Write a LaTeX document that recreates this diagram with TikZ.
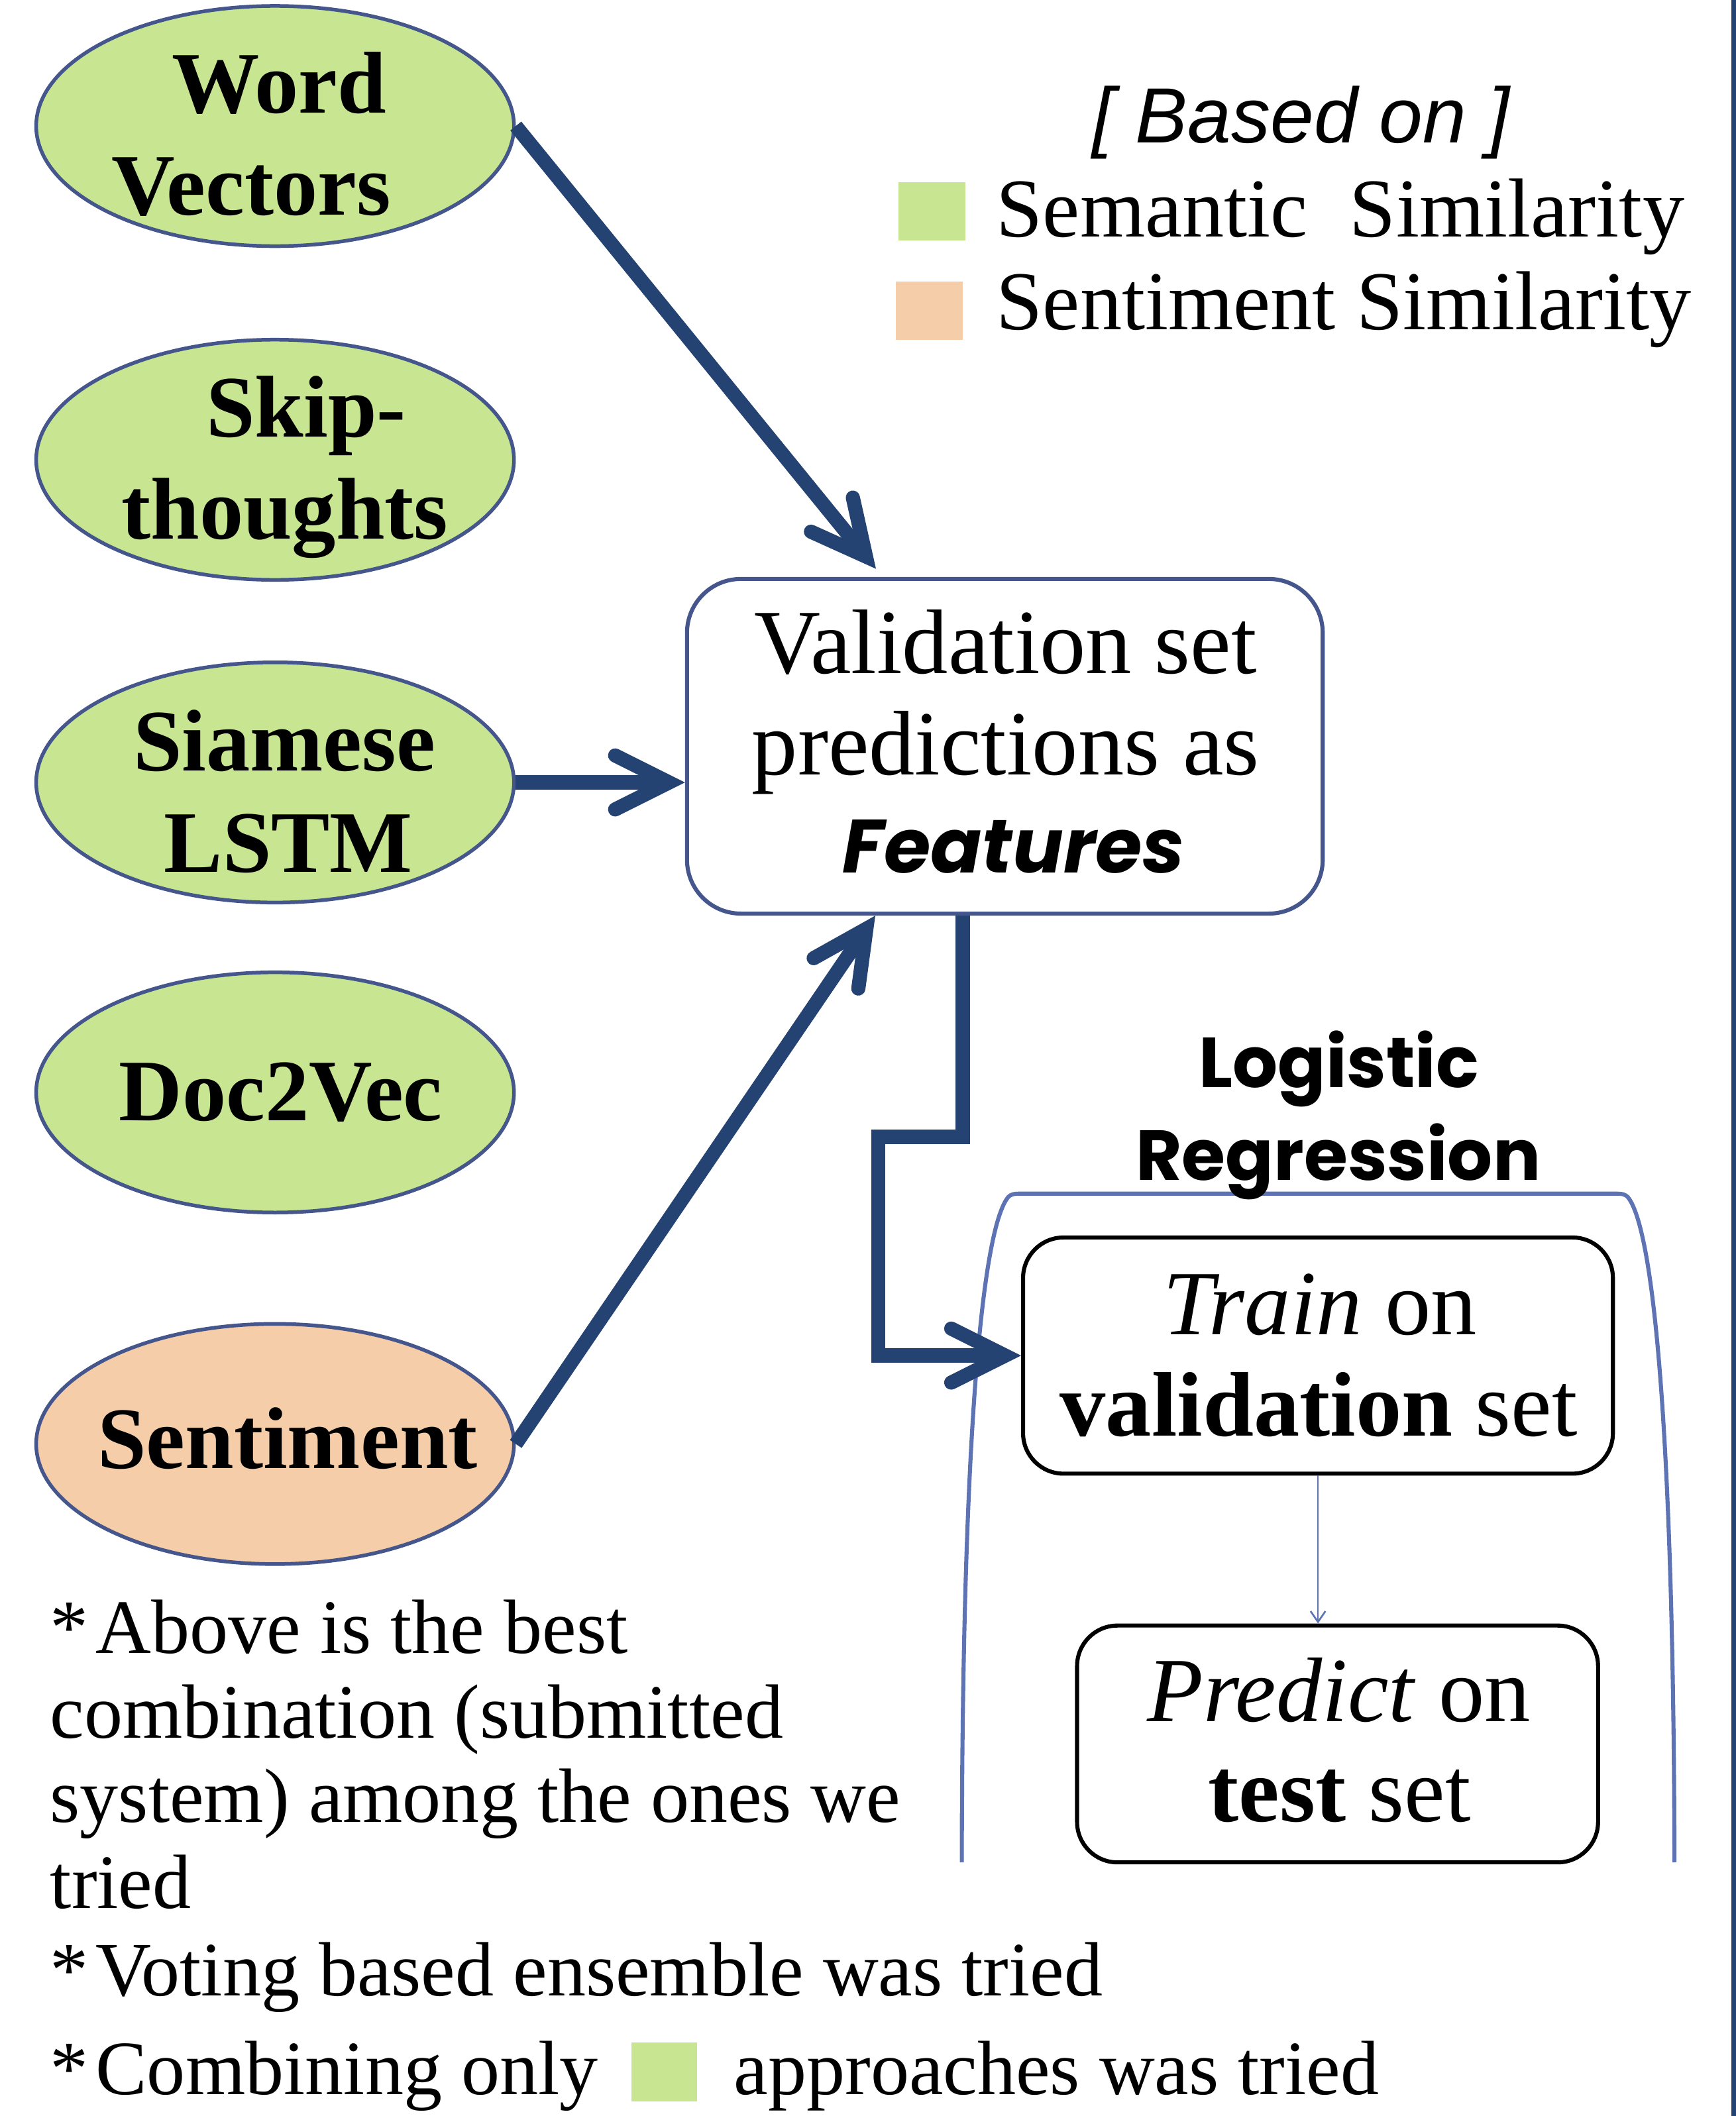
\documentclass[tikz,border=0pt]{standalone}
\usepackage{fontspec}
\setmainfont{Liberation Serif}
\newfontfamily\lsans{Liberation Sans}
\newfontfamily\pop{Poppins}
\usetikzlibrary{shapes.geometric,arrows.meta}
\definecolor{lgreen}{HTML}{C8E691}
\definecolor{lorange}{HTML}{F5CDA8}
\definecolor{eborder}{HTML}{45568C}
\definecolor{darr}{HTML}{244272}
\definecolor{cline}{HTML}{5D73B4}
\begin{document}
\begin{tikzpicture}[x=1pt,y=-1pt,
  ell/.style={ellipse, draw=eborder, line width=2.7pt, minimum width=354pt, minimum height=178pt, inner sep=0pt},
  etext/.style={anchor=base, inner sep=0pt, font=\fontsize{65}{75}\selectfont\bfseries},
  btext/.style={anchor=base, inner sep=0pt, font=\fontsize{68}{75}\selectfont},
  ntext/.style={anchor=base west, inner sep=0pt, font=\fontsize{57}{62}\selectfont},
  legtext/.style={anchor=base west, inner sep=0pt, font=\fontsize{62}{70}\selectfont},
  bigarrow/.style={draw=darr, line width=10.5pt, -{Straight Barb[length=40pt,width=40pt,line cap=round,line join=miter]}},
  stepbox/.style={draw=black, line width=3pt, rounded corners=30pt, inner sep=0pt},
  lrtext/.style={anchor=base, inner sep=0pt, font=\pop\bfseries\fontsize{52.5}{60}\selectfont},
]
\useasboundingbox (0,0) rectangle (1286,1568);
\fill[white] (0,0) rectangle (1286,1568);
\fill[darr] (1283,0) rectangle (1286,1568);

% ellipses
\node[ell, fill=lgreen] (wv) at (203.8,93.4) {};
\node[ell, fill=lgreen] (skip) at (203.8,340.7) {};
\node[ell, fill=lgreen] (sia) at (203.8,579.8) {};
\node[ell, fill=lgreen] (d2v) at (203.8,809.5) {};
\node[ell, fill=lorange] (sent) at (203.8,1070) {};

\node[etext] (wv1) at (206.7,83.7) {Word};
\node[etext] (wv2) at (186,159.2) {Vectors};
\node[etext] (sk1) at (226.8,324) {Skip-};
\node[etext] (sk2) at (211,399.6) {thoughts};
\node[etext] (si1) at (210.6,571) {Siamese};
\node[etext] (si2) at (213.7,646.5) {LSTM};
\node[etext] (dv1) at (208,830.4) {Doc2Vec};
\node[etext] (se1) at (213,1088) {Sentiment};

% legend
\node[anchor=base, inner sep=0pt, font=\lsans\itshape\fontsize{58}{64}\selectfont] (based) at (964,106) {[ Based on ]};
\fill[lgreen] (665.6,135) rectangle (715.3,178);
\fill[lorange] (663.7,208.5) rectangle (713.2,251.7);
\node[legtext] (leg1) at (738,175.3) {Semantic\ \ Similarity};
\node[legtext] (leg2) at (738,244) {Sentiment Similarity};

% validation box
\node[draw=eborder, line width=3pt, rounded corners=40pt, minimum width=471pt, minimum height=248pt, inner sep=0pt, fill=white] (val) at (744.5,553) {};
\node[btext] (v1) at (745,499) {Validation set};
\node[btext] (v2) at (745,574) {predictions as};
\node[anchor=base, inner sep=0pt, font=\pop\bfseries\itshape\fontsize{56}{60}\selectfont] (v3) at (751,647) {Features};

% logistic regression container
\draw[cline, line width=3pt] (712.6,1380) .. controls (713,1060) and (728,910) .. (747,887)
  .. controls (749,885) and (751,884.5) .. (756,884.5) -- (1197,884.5)
  .. controls (1202,884.5) and (1204,885) .. (1206,887)
  .. controls (1225,910) and (1240,1060) .. (1240.6,1380);
\node[lrtext] (lr1) at (992,805.6) {Logistic};
\node[lrtext] (lr2) at (991.5,874.4) {Regression};

\node[stepbox, fill=white, minimum width=437pt, minimum height=175pt] (train) at (976.5,1004.5) {};
\node[btext] (t1) at (978,989) {\textit{Train} on};
\node[btext] (t2) at (977,1064) {\textbf{validation} set};

\node[stepbox, fill=white, minimum width=386pt, minimum height=175.5pt] (pred) at (991,1292.3) {};
\node[btext] (p1) at (992,1275.5) {\textit{Predict} on};
\node[btext] (p2) at (992.5,1350) {\textbf{test} set};

% connectors
\draw[bigarrow] (wv.east) -- ([xshift=141.5pt,yshift=6pt]val.north west);
\draw[bigarrow] (sia.east) -- (sia.east -| val.west);
\draw[bigarrow] (sent.east) -- ([xshift=141pt]val.south west);
\draw[bigarrow] ([xshift=-31.2pt]val.south) -- ++(0,164) -- ++(-62.5,0) |- (train.west);
\draw[cline, line width=1.3pt, -{Straight Barb[length=8pt,width=11pt]}] (train.south) -- (train.south |- pred.north);

% notes
\node[ntext] (n1) at (37,1225) {*\hspace{-9pt} Above is the best};
\node[ntext] (n2) at (37,1288) {combination (submitted};
\node[ntext] (n3) at (37,1350.5) {system) among the ones we};
\node[ntext] (n4) at (37,1414) {tried};
\node[ntext] (n5) at (37,1479) {*\hspace{-9pt} Voting based ensemble was tried};
\node[ntext] (n6) at (37,1552) {*\hspace{-9pt} Combining only};
\fill[lgreen] (467.7,1513.7) rectangle (516.3,1557);
\node[ntext] (n7) at (543.6,1552) {approaches was tried};
\end{tikzpicture}
\end{document}
